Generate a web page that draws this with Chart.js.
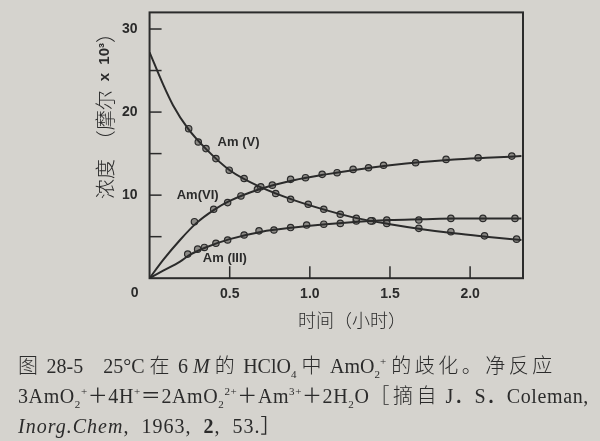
<!DOCTYPE html>
<html>
<head>
<meta charset="utf-8">
<script src="https://cdn.jsdelivr.net/npm/chart.js@4/dist/chart.umd.min.js"></script>
<style>
  html, body { margin: 0; padding: 0; background: #d5d3ce; }
  #wrap { position: relative; width: 600px; height: 441px; overflow: hidden; }
  #fig { position: absolute; left: 0; top: 0; }
  .cap { position: absolute; left: 18px; white-space: nowrap; color: #2b2b2b;
         font-family: "Liberation Serif", "DejaVu Serif", "Noto Sans CJK SC", serif; font-size: 20px; }
  .cap .zh { font-family: "Noto Sans CJK SC", sans-serif; font-weight: 300; letter-spacing: 3.5px; }
  .cap sub, .cap sup { font-size: 11px; }
  .l2 { letter-spacing: 0.6px; }
  .l3 { letter-spacing: 1px; }
</style>
</head>
<body>
<div id="wrap">
  <canvas id="fig" width="600" height="441"></canvas>
  <div class="cap" style="top:350px"><span class="zh">图</span> 28-5&nbsp;&nbsp;&nbsp; 25°C <span class="zh">在</span> 6 <i>M</i> <span class="zh">的</span> HClO<sub>4</sub> <span class="zh">中</span> AmO<sub>2</sub><sup>+</sup> <span class="zh">的歧化。净反应</span></div>
  <div class="cap l2" style="top:380px">3AmO<sub>2</sub><sup>+</sup>＋4H<sup>+</sup>＝2AmO<sub>2</sub><sup>2+</sup>＋Am<sup>3+</sup>＋2H<sub>2</sub>O<span class="zh">［摘自</span> J．S．Coleman,</div>
  <div class="cap l3" style="top:410px"><i>Inorg.Chem</i>,&nbsp;&nbsp;1963,&nbsp;&nbsp;<b>2</b>,&nbsp;&nbsp;53.］</div>
</div>
<script>
// 实验点: 时间 (小时) 与 浓度 (摩尔 x 10^3)
var timeV   = [0.244, 0.304, 0.352, 0.414, 0.497, 0.59, 0.694, 0.787, 0.88, 0.99, 1.087, 1.19, 1.29, 1.38, 1.48, 1.68, 1.88, 2.09, 2.29];
var concV   = [18.0, 16.4, 15.6, 14.4, 13.0, 12.0, 11.0, 10.2, 9.5, 8.9, 8.3, 7.7, 7.2, 6.9, 6.6, 6.0, 5.6, 5.1, 4.7];
var timeVI  = [0.28, 0.40, 0.487, 0.57, 0.673, 0.766, 0.88, 0.973, 1.077, 1.17, 1.27, 1.366, 1.46, 1.66, 1.85, 2.05, 2.26];
var concVI  = [6.8, 8.3, 9.1, 9.9, 10.7, 11.2, 11.9, 12.1, 12.5, 12.7, 13.1, 13.3, 13.6, 13.9, 14.3, 14.5, 14.7];
var timeIII = [0.238, 0.30, 0.342, 0.414, 0.487, 0.59, 0.683, 0.776, 0.88, 0.98, 1.087, 1.19, 1.29, 1.39, 1.48, 1.68, 1.88, 2.08, 2.28];
var concIII = [2.9, 3.5, 3.7, 4.2, 4.6, 5.2, 5.7, 5.8, 6.1, 6.4, 6.5, 6.6, 6.9, 6.9, 7.0, 7.0, 7.2, 7.2, 7.2];

// 拟合曲线
var fitTimeV   = [0, 0.085, 0.147, 0.24, 0.35, 0.5, 0.7, 0.9, 1.1, 1.3, 1.5, 1.7, 1.9, 2.1, 2.32];
var fitV       = [27.2, 23.3, 20.8, 18.0, 15.6, 13.0, 10.9, 9.4, 8.2, 7.2, 6.5, 5.9, 5.4, 5.0, 4.6];
var fitTimeVI  = [0, 0.085, 0.19, 0.29, 0.4, 0.5, 0.7, 0.9, 1.1, 1.3, 1.5, 1.7, 1.9, 2.1, 2.32];
var fitVI      = [0, 2.2, 4.6, 6.6, 8.2, 9.3, 10.8, 11.8, 12.5, 13.1, 13.6, 14.0, 14.3, 14.5, 14.7];
var fitTimeIII = [0, 0.085, 0.19, 0.25, 0.35, 0.5, 0.7, 0.9, 1.1, 1.3, 1.5, 1.7, 1.9, 2.1, 2.32];
var fitIII     = [0, 0.9, 2.0, 2.8, 3.7, 4.7, 5.6, 6.1, 6.5, 6.8, 7.0, 7.1, 7.2, 7.2, 7.2];

var seriesNames = ['Am (V)', 'Am(VI)', 'Am (III)'];
var xTicks = [0.5, 1.0, 1.5, 2.0];
var yTicks = [5, 10, 15, 20, 25, 30];
// 标注位置 (数据单位)
var labelX = [0.555, 0.30, 0.47];
var labelY = [16.4, 10.0, 2.4];

var ink = '#2b2b2b';

function toPoints(xs, ys) {
  var out = [];
  for (var i = 0; i < xs.length; i++) out.push({ x: xs[i], y: ys[i] });
  return out;
}

function curveSet(name, xs, ys) {
  return {
    label: name,
    data: toPoints(xs, ys),
    showLine: true,
    borderColor: ink,
    borderWidth: 2,
    cubicInterpolationMode: 'monotone',
    pointRadius: 0
  };
}

function markSet(name, xs, ys) {
  return {
    label: name,
    data: toPoints(xs, ys),
    showLine: false,
    pointBackgroundColor: '#8c8a86',
    pointBorderColor: ink,
    pointBorderWidth: 1.2,
    pointRadius: 3.2
  };
}

var decor = {
  id: 'decor',
  afterDatasetsDraw: function(chart) {
    var c = chart.ctx, a = chart.chartArea;
    var sx = chart.scales.x, sy = chart.scales.y;
    c.save();
    c.strokeStyle = ink;
    c.lineWidth = 2;
    c.strokeRect(a.left, a.top, a.right - a.left, a.bottom - a.top);
    c.lineWidth = 1.5;
    yTicks.forEach(function(v) {
      var py = sy.getPixelForValue(v);
      c.beginPath(); c.moveTo(a.left, py); c.lineTo(a.left + 12, py); c.stroke();
    });
    xTicks.forEach(function(v) {
      var px = sx.getPixelForValue(v);
      c.beginPath(); c.moveTo(px, a.bottom); c.lineTo(px, a.bottom - 12); c.stroke();
    });

    c.fillStyle = ink;
    c.font = 'bold 13px "Liberation Sans", Arial, sans-serif';
    c.textAlign = 'center';
    c.textBaseline = 'middle';
    for (var i = 0; i < seriesNames.length; i++) {
      c.fillText(seriesNames[i], sx.getPixelForValue(labelX[i]), sy.getPixelForValue(labelY[i]));
    }
    // 原点 "0"
    c.font = 'bold 14px "Liberation Sans", Arial, sans-serif';
    c.fillText('0', a.left - 15, a.bottom + 15);

    // x 轴标题
    c.font = '300 18px "Noto Sans CJK SC", sans-serif';
    c.fillText('时间（小时）', 352, 320);

    // y 轴标题 (旋转)
    c.translate(105, 111);
    c.rotate(-Math.PI / 2);
    var parts = [
      ['浓度  （摩尔  ', '300 20px "Noto Sans CJK SC", sans-serif'],
      ['x  10³', 'bold 15px "Liberation Sans", Arial, sans-serif'],
      ['）', '300 20px "Noto Sans CJK SC", sans-serif']
    ];
    var total = 0;
    parts.forEach(function(p) { c.font = p[1]; total += c.measureText(p[0]).width; });
    var x0 = -total / 2;
    c.textAlign = 'left';
    parts.forEach(function(p) {
      c.font = p[1];
      c.fillText(p[0], x0, 0);
      x0 += c.measureText(p[0]).width;
    });
    c.restore();
  }
};

new Chart(document.getElementById('fig'), {
  type: 'scatter',
  data: {
    datasets: [
      curveSet(seriesNames[0], fitTimeV, fitV),
      curveSet(seriesNames[1], fitTimeVI, fitVI),
      curveSet(seriesNames[2], fitTimeIII, fitIII),
      markSet(seriesNames[0], timeV, concV),
      markSet(seriesNames[1], timeVI, concVI),
      markSet(seriesNames[2], timeIII, concIII)
    ]
  },
  options: {
    responsive: false,
    animation: false,
    layout: { padding: { left: 118, right: 77, top: 6, bottom: 138 } },
    plugins: { legend: { display: false }, tooltip: { enabled: false } },
    scales: {
      x: {
        type: 'linear', min: 0, max: 2.33,
        grid: { display: false },
        border: { display: false },
        ticks: {
          stepSize: 0.5, includeBounds: false, padding: 0, maxRotation: 0, autoSkip: false,
          color: ink, font: { family: '"Liberation Sans", Arial, sans-serif', size: 14, weight: 'bold' },
          callback: function(v) { return v === 0 ? '' : v.toFixed(1); }
        }
      },
      y: {
        type: 'linear', min: 0, max: 32,
        grid: { display: false },
        border: { display: false },
        ticks: {
          stepSize: 5, includeBounds: false, padding: 4, autoSkip: false,
          color: ink, font: { family: '"Liberation Sans", Arial, sans-serif', size: 14, weight: 'bold' },
          callback: function(v) { return (v > 0 && v % 10 === 0) ? String(v) : ''; }
        }
      }
    }
  },
  plugins: [decor]
});
</script>
</body>
</html>
